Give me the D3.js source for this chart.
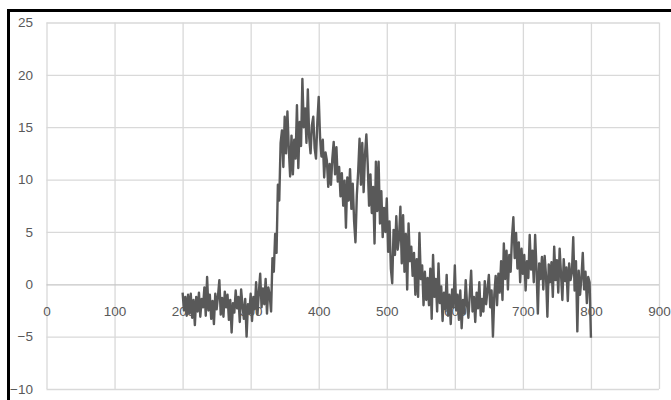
<!DOCTYPE html>
<html>
<head>
<meta charset="utf-8">
<script src="https://cdn.jsdelivr.net/npm/d3@7"></script>
<style>
  html, body { margin: 0; padding: 0; background: #ffffff; }
  svg { display: block; }
</style>
</head>
<body>
<svg id="chart" width="671" height="400"></svg>
<script>
// ---- data ----
const xStart = 200;
const xStep = 2;
const yValues = [
  // 200-218
  -0.8, -2.5, -1.2, -3.0, -1.0, -2.8, -0.9, -3.2, -1.5, -3.9,
  // 220-238
  -1.2, -2.6, -0.8, -3.1, -1.4, -2.2, -0.3, -3.0, 0.7, -2.5,
  // 240-258
  -1.0, -3.3, -1.6, -3.8, -0.9, -2.4, -1.1, 0.4, -2.9, -1.3,
  // 260-278
  -3.1, -0.7, -2.2, -1.0, -3.4, -1.5, -4.6, -1.8, -2.7, -0.6,
  // 280-298
  -2.3, -1.2, -3.6, -0.5, -2.0, -3.3, -1.4, -5.0, -1.9, -2.8,
  // 300-318
  -0.9, -3.5, -1.2, -2.4, 0.2, -2.9, -0.8, 1.0, -2.2, -0.4,
  // 320-338
  -1.9, 0.5, -2.8, -0.3, -1.1, -2.6, 2.5, 1.2, 4.8, 3.0,
  // 340-358
  9.5, 8.0, 13.5, 14.7, 11.2, 16.0, 12.5, 16.5, 13.0, 10.3,
  // 360-378
  14.2, 10.5, 13.8, 12.0, 17.1, 11.1, 15.5, 13.2, 19.6, 15.0,
  // 380-398
  16.8, 13.5, 18.6, 14.0, 12.5, 15.2, 16.0, 13.0, 12.0, 15.5,
  // 400-418
  17.9, 14.0, 12.2, 13.8, 10.2, 12.6, 11.8, 9.3, 11.5, 9.5,
  // 420-438
  12.0, 13.6, 10.5, 13.1, 9.8, 11.2, 8.4, 10.6, 7.5, 9.9,
  // 440-458
  5.4, 10.2, 8.0, 11.0, 7.2, 9.6, 6.0, 4.0, 8.5, 10.8,
  // 460-478
  13.9, 9.5, 13.5, 8.8, 12.4, 14.3, 11.4, 7.5, 10.5, 6.8,
  // 480-498
  9.3, 3.9, 11.7, 7.0, 11.7, 5.8, 8.9, 4.5, 7.3, 5.0,
  // 500-518
  8.2, 3.1, 6.0, 1.5, 0.1, 5.2, 2.8, 6.5, 3.3, 4.4,
  // 520-538
  7.4, 2.0, 6.6, 1.2, 4.8, -0.5, 5.8, 2.2, 3.6, 0.8,
  // 540-558
  3.0, -1.0, 2.4, -1.2, 4.9, 0.5, 1.8, -2.0, 1.2, -1.5,
  // 560-578
  0.6, -2.0, 1.5, -3.3, 2.8, -1.2, 0.5, -2.6, 2.0, -1.8,
  // 580-598
  -0.2, -3.5, -0.8, -2.4, 0.9, -3.0, -1.0, -3.8, -0.5, -2.2,
  // 600-618
  1.8, -2.5, -1.0, -3.4, -0.6, -4.2, -1.5, -2.8, 0.4, -2.0,
  // 620-638
  -3.2, -0.9, 1.3, -2.6, -1.2, -3.6, -0.8, -2.3, 0.2, -3.0,
  // 640-658
  -1.4, -2.6, 0.3, -1.9, -0.5, 0.9, -2.2, -0.6, -5.0, -1.0,
  // 660-678
  0.8, -2.0, 1.0, -0.8, 2.2, -1.5, 3.9, 0.5, 3.2, -0.5,
  // 680-698
  2.8, 1.2, 4.5, 6.4, 2.5, 4.9, 1.5, 4.0, 0.2, 3.4,
  // 700-718
  1.0, 2.8, -0.6, 2.2, 0.6, 4.7, 1.4, 3.2, 0.2, 4.7,
  // 720-738
  1.5, -2.8, 2.0, 0.5, 2.6, -0.5, 2.7, 0.8, -3.1, 1.9,
  // 740-758
  0.2, 2.1, -1.2, 3.6, 0.4, 2.3, -0.8, 3.4, 1.0, -1.5,
  // 760-778
  2.4, 0.3, 1.6, -1.6, 2.0, 0.4, 1.1, 4.5, -0.6, 2.2,
  // 780-798
  -4.5, 1.3, -1.0, 0.6, 3.0, -0.5, 1.2, -1.8, 0.7, 0.2,
  // 800
  -5.1
];
const xTicks = [0, 100, 200, 300, 400, 500, 600, 700, 800, 900];
const yTicks = [-10, -5, 0, 5, 10, 15, 20, 25];
const xDomain = [0, 900];
const yDomain = [-10, 25];

// ---- build ----
const points = yValues.map((v, i) => ({ x: xStart + i * xStep, y: v }));

const svg = d3.select("#chart");
const W = 671, H = 400;
const plot = { left: 46.5, right: 659, top: 22.5, bottom: 389 };

const x = d3.scaleLinear().domain(xDomain).range([plot.left, plot.right]);
const y = d3.scaleLinear().domain(yDomain).range([plot.bottom, plot.top]);

const gridColor = "#d9d9d9";
const textColor = "#595959";
const fontFamily = "'Liberation Sans', Arial, sans-serif";

// vertical gridlines
const gx = svg.append("g")
  .attr("transform", `translate(0,${plot.bottom})`)
  .call(d3.axisBottom(x).tickValues(xTicks).tickSize(-(plot.bottom - plot.top)).tickFormat(""));
gx.select(".domain").remove();
gx.selectAll("line").attr("stroke", gridColor).attr("stroke-width", 1.3);

// horizontal gridlines
const gy = svg.append("g")
  .attr("transform", `translate(${plot.left},0)`)
  .call(d3.axisLeft(y).tickValues(yTicks).tickSize(-(plot.right - plot.left)).tickFormat(""));
gy.select(".domain").remove();
gy.selectAll("line").attr("stroke", d => d === 0 ? "#c6c6c6" : gridColor).attr("stroke-width", 1.3);

// y tick labels
const yl = svg.append("g")
  .attr("transform", `translate(${plot.left},0)`)
  .call(d3.axisLeft(y).tickValues(yTicks).tickSize(0).tickPadding(13.5).tickFormat(d3.format("d")));
yl.select(".domain").remove();
yl.selectAll("text")
  .attr("fill", textColor)
  .style("font-family", fontFamily)
  .style("font-size", "13.5px");

// x tick labels (axis crosses at y = 0, labels below)
const xl = svg.append("g")
  .attr("transform", `translate(0,${y(0)})`)
  .call(d3.axisBottom(x).tickValues(xTicks).tickSize(0).tickPadding(22).tickFormat(d3.format("d")));
xl.select(".domain").remove();
xl.selectAll("text")
  .attr("fill", textColor)
  .style("font-family", fontFamily)
  .style("font-size", "13.5px");

// data line
const line = d3.line().x(d => x(d.x)).y(d => y(d.y));
svg.append("path")
  .datum(points)
  .attr("d", line)
  .attr("fill", "none")
  .attr("stroke", "#595959")
  .attr("stroke-width", 2.4)
  .attr("stroke-linejoin", "round");

// outer border (top and left visible)
svg.append("line").attr("x1", 8.5).attr("x2", W + 5).attr("y1", 10.5).attr("y2", 10.5)
  .attr("stroke", "#000").attr("stroke-width", 3);
svg.append("line").attr("x1", 8.5).attr("x2", 8.5).attr("y1", 9).attr("y2", H + 5)
  .attr("stroke", "#000").attr("stroke-width", 3);
</script>
</body>
</html>
